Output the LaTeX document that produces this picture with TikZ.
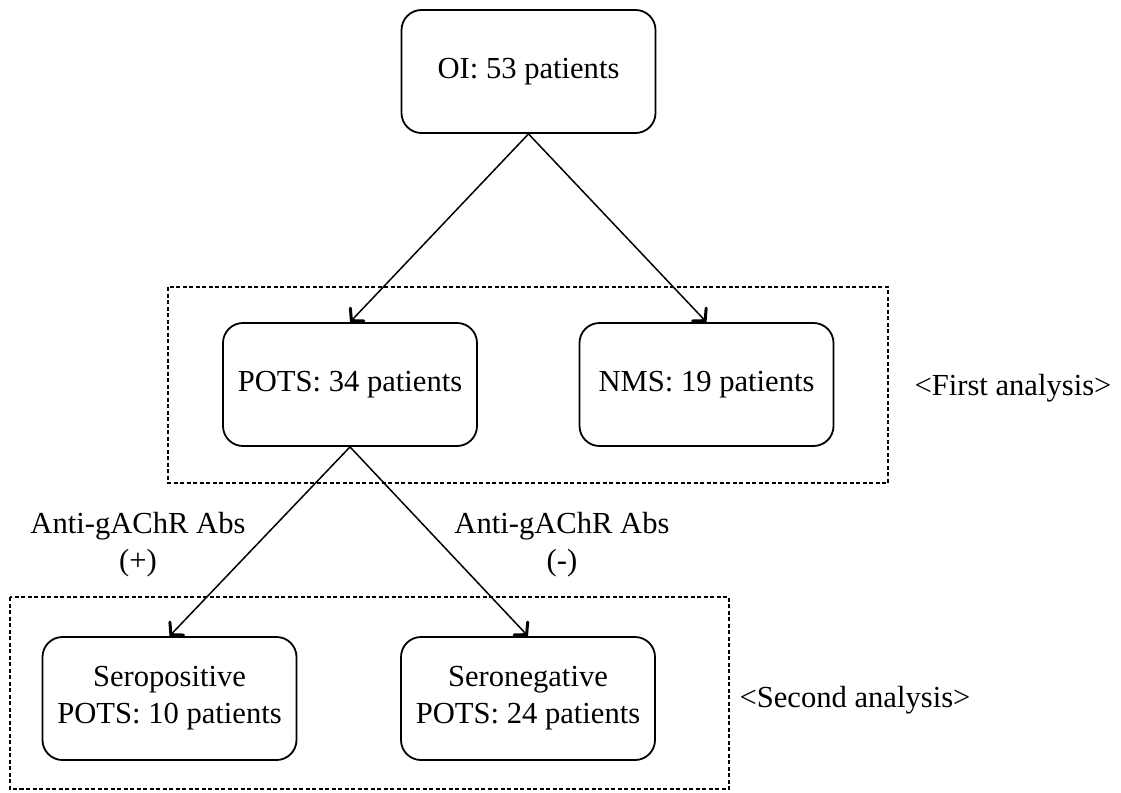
\documentclass[tikz,border=0pt]{standalone}
\usepackage{fontspec}
\setmainfont{Liberation Serif}
\usetikzlibrary{calc}
\begin{document}
\begin{tikzpicture}[x=1pt,y=-1pt,
  box/.style={draw, line width=1.8pt, rounded corners=20pt, minimum width=254pt, minimum height=123pt, align=center, inner sep=0pt, font=\fontsize{30.6}{37}\selectfont},
  lbl/.style={align=center, inner sep=0pt, font=\fontsize{30.6}{37}\selectfont},
  grp/.style={draw, line width=1.7pt, dash pattern=on 4pt off 2.5pt},
  arr/.style={line width=1.5pt},
  barb/.style={line width=3pt, line join=miter, line cap=round}]
\useasboundingbox (0,0) rectangle (1121,792);
\node[box] (oi) at (528.5,71.5) {OI: 53 patients};
\node[box] (pots) at (350,384.5) {POTS: 34 patients};
\node[box] (nms) at (706.5,384.5) {NMS: 19 patients};
\node[box] (sp) at (169.5,698.5) {Seropositive\\POTS: 10 patients};
\node[box] (sn) at (528,698.5) {Seronegative\\POTS: 24 patients};
\draw[grp] (168,287) rectangle (888,483);
\draw[grp] (10,597) rectangle (729,789);
\node[lbl] (first) at (1013,388) {<First analysis>};
\node[lbl] (second) at (855,700) {<Second analysis>};
\node[lbl] (pos) at (138,545) {Anti-gAChR Abs\\(+)};
\node[lbl] (neg) at (562,545) {Anti-gAChR Abs\\(-)};
\draw[arr] (oi.south) -- ($(pots.north)!2pt!(oi.south)$);
\draw[arr] (oi.south) -- ($(nms.north)!2pt!(oi.south)$);
\draw[arr] (pots.south) -- ($(sp.north)!2pt!(pots.south)$);
\draw[arr] (pots.south) -- ($(sn.north)!2pt!(pots.south)$);
\foreach \a/\b in {oi/pots, oi/nms, pots/sp, pots/sn}{
  \draw[barb] ($(\b.north)!14pt!42:(\a.south)$) -- ($(\b.north)!2pt!(\a.south)$) -- ($(\b.north)!14pt!-42:(\a.south)$);
}
\end{tikzpicture}
\end{document}
